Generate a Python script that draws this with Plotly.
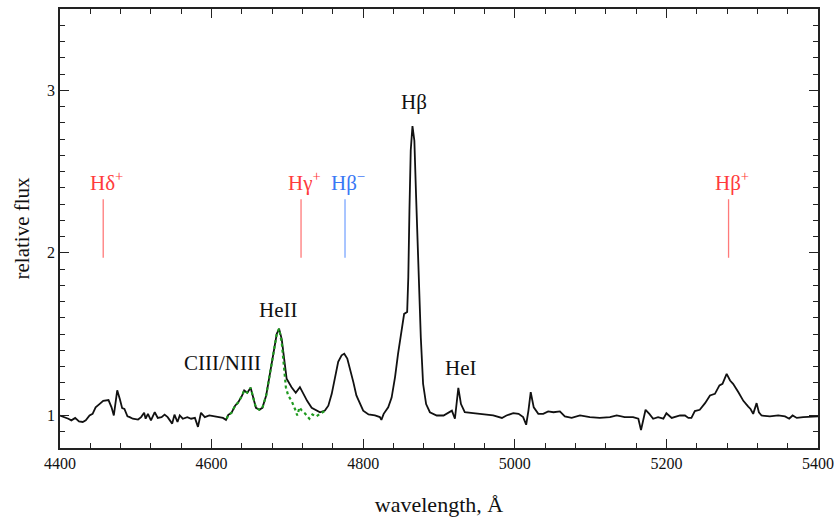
import plotly.graph_objects as go

# ---- spectrum (black) ----
wavelength = [4400, 4406, 4411, 4415, 4420, 4425, 4430, 4434, 4439, 4443, 4447, 4452, 4457, 4464, 4468,
              4471, 4475.5, 4479, 4482, 4485, 4489, 4492, 4496, 4503, 4507, 4511, 4513, 4516, 4520, 4525,
              4529, 4534, 4538, 4542, 4548, 4551, 4555, 4558, 4562, 4568, 4573, 4578, 4582, 4586, 4591,
              4597, 4603, 4608, 4615, 4619, 4622, 4626, 4631, 4635, 4640, 4643, 4647, 4651.5, 4655, 4658.5,
              4663, 4667, 4672, 4677, 4681.5, 4686, 4689, 4692.5, 4695.5, 4699, 4705.5, 4711, 4716.5, 4721,
              4726, 4732, 4737.5, 4743, 4749.5, 4754, 4758.5, 4763, 4767, 4771.5, 4775, 4779, 4782.5, 4787,
              4791, 4796, 4800, 4807, 4815.5, 4822, 4824, 4827, 4833, 4837.5, 4842, 4846, 4851, 4854, 4858,
              4859.5, 4861, 4862.7, 4865, 4867.5, 4869.7, 4872.7, 4876, 4879, 4883, 4888, 4897, 4906, 4913.5,
              4917, 4921, 4925.5, 4929, 4934, 4945, 4958.5, 4971.5, 4983, 4989, 4998, 5005, 5011, 5015, 5018,
              5021, 5025, 5031, 5037.5, 5044, 5051, 5059.5, 5066, 5075, 5086, 5099, 5112, 5125.5, 5134.5,
              5145, 5156, 5163, 5166.5, 5169.5, 5172.5, 5177.5, 5182.5, 5189, 5196, 5200, 5204, 5207, 5218,
              5224.5, 5229, 5233, 5237.5, 5244, 5251, 5257.5, 5264, 5270, 5274, 5279.5, 5284, 5288, 5295,
              5301.5, 5308, 5311, 5314.5, 5319, 5322, 5325.5, 5336.5, 5347.5, 5356.5, 5362, 5366.5, 5372,
              5380.5, 5389.5, 5400]
flux = [1.00, 0.99, 0.98, 0.97, 0.985, 0.963, 0.96, 0.97, 1.00, 1.01, 1.05, 1.07, 1.09, 1.095, 1.05,
        1.00, 1.155, 1.10, 1.045, 1.04, 0.995, 0.99, 0.98, 0.975, 0.99, 1.017, 0.98, 1.01, 0.97, 1.02,
        0.985, 0.99, 1.005, 0.99, 0.95, 1.005, 0.96, 1.00, 0.98, 0.99, 0.98, 0.985, 0.93, 1.017, 0.99,
        1.00, 0.995, 0.99, 0.985, 0.973, 1.004, 1.015, 1.06, 1.08, 1.12, 1.154, 1.14, 1.17, 1.11, 1.047,
        1.035, 1.047, 1.123, 1.246, 1.38, 1.503, 1.533, 1.47, 1.34, 1.226, 1.174, 1.14, 1.174, 1.133,
        1.09, 1.047, 1.035, 1.02, 1.03, 1.06, 1.133, 1.236, 1.33, 1.37, 1.38, 1.35, 1.29, 1.205,
        1.123, 1.065, 1.03, 1.006, 1.00, 0.99, 0.973, 1.01, 1.05, 1.11, 1.236, 1.38, 1.52, 1.625, 1.636,
        1.85, 2.26, 2.63, 2.78, 2.69, 2.36, 1.89, 1.48, 1.195, 1.07, 1.02, 1.00, 1.00, 1.02,
        1.03, 0.98, 1.17, 1.07, 1.02, 1.014, 1.006, 1.00, 0.985, 1.00, 1.014, 1.01, 0.99, 0.943, 1.03,
        1.143, 1.05, 1.01, 1.01, 1.025, 1.02, 1.025, 0.994, 0.985, 1.00, 0.99, 0.985, 0.99, 1.00,
        0.99, 0.99, 0.98, 0.91, 0.98, 1.035, 1.01, 0.98, 0.99, 0.98, 1.014, 1.00, 0.985, 1.00,
        1.00, 0.985, 0.985, 1.027, 1.035, 1.076, 1.123, 1.133, 1.185, 1.195, 1.256, 1.215, 1.195, 1.143,
        1.09, 1.055, 1.04, 1.01, 1.076, 1.02, 1.00, 0.994, 1.00, 0.994, 0.98, 1.00, 0.985,
        0.99, 0.99, 0.994]

# ---- model fit (green dotted) ----
fit_wavelength = [4620, 4622, 4626, 4631, 4635, 4640, 4643, 4647, 4651.5, 4655, 4658.5, 4663, 4667, 4672,
                  4677, 4681.5, 4686, 4689, 4692.5, 4695.5, 4698, 4701, 4705.5, 4710, 4713, 4716, 4719,
                  4723, 4729, 4733, 4738, 4743, 4750]
fit_flux = [0.98, 1.004, 1.015, 1.06, 1.08, 1.12, 1.154, 1.14, 1.17, 1.11, 1.047, 1.035, 1.047, 1.123,
            1.246, 1.38, 1.503, 1.533, 1.45, 1.30, 1.174, 1.123, 1.09, 1.04, 1.00, 1.05, 1.03,
            1.014, 0.98, 1.006, 0.994, 1.01, 1.03]

# ---- marked line positions ----
marker_labels = ["Hδ<sup>+</sup>", "Hγ<sup>+</sup>", "Hβ<sup>−</sup>", "Hβ<sup>+</sup>"]
marker_wavelength = [4457, 4718, 4776, 5282]
marker_text_color = ["#ff3b3b", "#ff3b3b", "#3a78f5", "#ff3b3b"]
marker_line_color = ["#ff7a7a", "#ff7a7a", "#7aa6ff", "#ff7a7a"]
marker_bottom, marker_top, marker_label_y = 1.97, 2.33, 2.44

# ---- feature labels ----
feature_labels = ["Hβ", "HeII", "CIII/NIII", "HeI"]
feature_wavelength = [4867, 4688, 4614, 4929]
feature_y = [2.93, 1.65, 1.325, 1.29]

x_range = [4400, 5400]
y_range = [0.8, 3.5]

FONT = "Liberation Serif"
INK = "#111111"
AX = "#222222"

fig = go.Figure()
fig.add_trace(go.Scatter(x=wavelength, y=flux, mode="lines",
                         line=dict(color=INK, width=1.8), showlegend=False, hoverinfo="skip"))
fig.add_trace(go.Scatter(x=fit_wavelength, y=fit_flux, mode="lines",
                         line=dict(color="#1f9a1f", width=2.2, dash="dot"), showlegend=False, hoverinfo="skip"))

for wl, lc in zip(marker_wavelength, marker_line_color):
    fig.add_trace(go.Scatter(x=[wl, wl], y=[marker_bottom, marker_top], mode="lines",
                             line=dict(color=lc, width=1.3), showlegend=False, hoverinfo="skip"))

# invisible trace so the mirrored tick axes (top/right) are drawn
fig.add_trace(go.Scatter(x=[None], y=[None], xaxis="x2", yaxis="y2", mode="lines",
                         showlegend=False, hoverinfo="skip"))

for lab, wl, tc in zip(marker_labels, marker_wavelength, marker_text_color):
    fig.add_annotation(x=wl, y=marker_label_y, text=lab, showarrow=False, xanchor="center",
                       xshift=3, font=dict(family=FONT, size=21, color=tc))

for lab, wl, yy in zip(feature_labels, feature_wavelength, feature_y):
    fig.add_annotation(x=wl, y=yy, text=lab, showarrow=False, xanchor="center",
                       font=dict(family=FONT, size=21, color=INK))

tick_common = dict(ticks="inside", ticklen=9, tickwidth=1.2, tickcolor=AX,
                   showgrid=False, zeroline=False, automargin=False,
                   tickfont=dict(family=FONT, size=16, color=INK))

x_minor = dict(dtick=40, tick0=4400, ticks="inside", ticklen=5, tickwidth=1.1, tickcolor=AX, showgrid=False)
y_minor = dict(dtick=0.1, tick0=0, ticks="inside", ticklen=5, tickwidth=1.1, tickcolor=AX, showgrid=False)

fig.update_layout(
    width=834, height=523, margin=dict(l=60, r=16, t=9, b=75),
    plot_bgcolor="white", paper_bgcolor="white",
    xaxis=dict(range=x_range, tick0=4400, dtick=200, minor=x_minor,
               showline=True, linecolor=AX, linewidth=1.5, mirror=True,
               title=dict(text="wavelength, Å", font=dict(family=FONT, size=22, color=INK), standoff=26),
               **tick_common),
    yaxis=dict(range=y_range, tickvals=[1, 2, 3], minor=y_minor,
               showline=True, linecolor=AX, linewidth=1.5, mirror=True,
               title=dict(text="relative flux", font=dict(family=FONT, size=21, color=INK), standoff=12),
               **tick_common),
    xaxis2=dict(range=x_range, tick0=4400, dtick=200, minor=x_minor, overlaying="x", side="top",
                anchor="y", showticklabels=False, showline=False, **tick_common),
    yaxis2=dict(range=y_range, tickvals=[1, 2, 3], minor=y_minor, overlaying="y", side="right",
                anchor="x", showticklabels=False, showline=False, **tick_common),
)

fig.write_html("out.html")
